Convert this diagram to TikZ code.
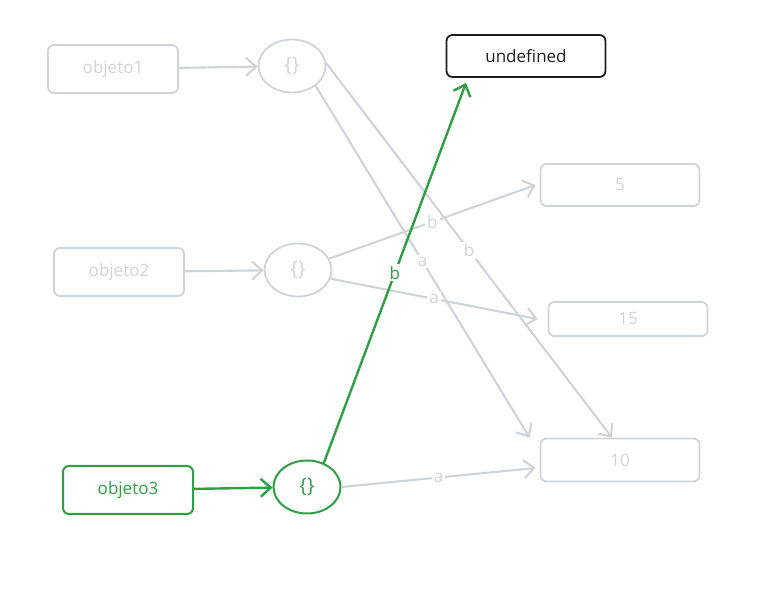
\documentclass[tikz,border=0pt]{standalone}
\usepackage{fontspec}
\setmainfont{Open Sans}
\usetikzlibrary{shapes.geometric, arrows.meta, positioning}
\definecolor{greyline}{HTML}{CED4DA}
\definecolor{greenline}{HTML}{2F9E44}
\definecolor{inkblack}{HTML}{1E1E1E}
\tikzset{
    objbox/.style={
        rectangle, draw=greyline, text=greyline,
        rounded corners=6pt, line width=1.8pt,
        minimum width=130pt, minimum height=48pt,
        font=\fontsize{17}{19}\selectfont
    },
    valbox/.style={objbox, minimum width=159pt, minimum height=42pt},
    ref/.style={
        ellipse, draw=greyline, text=greyline, line width=1.8pt,
        minimum width=67pt, minimum height=53pt, inner sep=0pt,
        font=\fontsize{20}{22}\selectfont
    },
    link/.style={draw=greyline, line width=2.1pt, -{Straight Barb[length=10pt, width=18pt]}},
    lbl/.style={fill=white, text=greyline, inner sep=2pt, midway, font=\fontsize{17}{19}\selectfont},
    % highlighted path
    hot/.style={draw=greenline, text=greenline}
}
\begin{document}
\begin{tikzpicture}[x=1pt, y=-1pt]
        \useasboundingbox (0,0) rectangle (764,593);
        % Layout
        \node [objbox] (obj1) at (113, 69) {objeto1};
        \node [objbox] (obj2) at (119, 272) {objeto2};
        \node [objbox, hot, line width=2pt] (obj3) at (128, 490) {objeto3};
        \node [ref] (c1) at (292, 66) {\{\}};
        \node [ref] (c2) at (298, 270) {\{\}};
        \node [ref, hot, line width=2pt] (c3) at (307, 487) {\{\}};
        \node [valbox, draw=inkblack, text=inkblack] (undef) at (526, 56) {undefined};
        \node [valbox] (five) at (620, 185) {5};
        \node [valbox, minimum height=34pt] (fifteen) at (628, 319) {15};
        \node [valbox, minimum height=43pt] (ten) at (620, 460) {10};

        % Flows
        \draw [link] (obj1) -- (c1);
        \draw [link] (obj2) -- (c2);
        \draw [link, hot, line width=2.4pt] (obj3) -- (c3);
        \draw [link] (c1.-40) -- ([xshift=-10pt]ten.north west) node [lbl] {a};
        \draw [link] (c1.5) -- ([xshift=-8pt]ten.north) node [lbl] {b};
        \draw [link] (c2.20) -- ([xshift=-4pt]five.west) node [lbl] {b};
        \draw [link] (c2.-15) -- ([xshift=-10pt]fifteen.west) node [lbl] {a};
        \draw [link] (c3.east) -- ([xshift=-4pt, yshift=-8pt]ten.west) node [lbl] {a};
        \draw [link, hot, line width=2.4pt] (c3.55) -- ([xshift=-60pt, yshift=-5pt]undef.south) node [lbl, text=greenline] {b};
    \end{tikzpicture}
\end{document}
